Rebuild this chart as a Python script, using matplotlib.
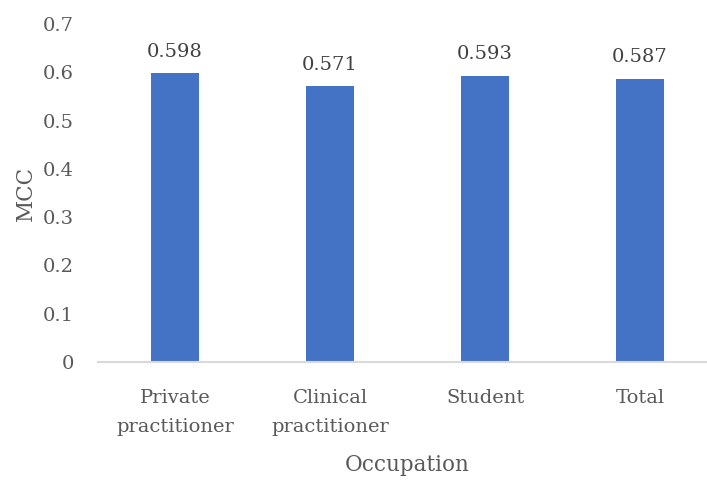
import matplotlib.pyplot as plt

categories = ["Private\npractitioner", "Clinical\npractitioner", "Student", "Total"]
mcc = [0.598, 0.571, 0.593, 0.587]
yticks = [0, 0.1, 0.2, 0.3, 0.4, 0.5, 0.6, 0.7]

grey = "#595959"
plt.rcParams["font.family"] = ["DejaVu Serif"]

fig = plt.figure(figsize=(7.07, 4.8), dpi=100)
# axes runs a little past the right edge of the figure
ax = fig.add_axes([97.5 / 707, (480 - 362) / 480, 620 / 707, 338 / 480])

x = range(len(categories))
bars = ax.bar(x, mcc, width=0.31, color="#4472C4", zorder=2)
for b, v in zip(bars, mcc):
    ax.text(b.get_x() + b.get_width() / 2, v + 0.026, f"{v:.3f}",
            ha="center", va="bottom", fontsize=14, color="#404040")

ax.set_xlim(-0.5, 3.5)
ax.set_ylim(0, 0.7)
ax.set_yticks(yticks)
ax.set_yticklabels([f"{t:g}" for t in yticks])
ax.set_xticks(list(x))
ax.set_xticklabels(categories, linespacing=1.75)

for s in ["top", "right", "left"]:
    ax.spines[s].set_visible(False)
ax.spines["bottom"].set_color("#D9D9D9")
ax.spines["bottom"].set_linewidth(1.5)

ax.tick_params(axis="both", length=0, labelsize=14, labelcolor=grey)
ax.tick_params(axis="y", pad=17)
ax.tick_params(axis="x", pad=19.5)

ax.set_ylabel("MCC", fontsize=15.5, color=grey)
ax.set_xlabel("Occupation", fontsize=15.5, color=grey, labelpad=13)
ax.yaxis.set_label_coords(-61 / 620, 0.5)

fig.savefig("out.png", dpi=100)
